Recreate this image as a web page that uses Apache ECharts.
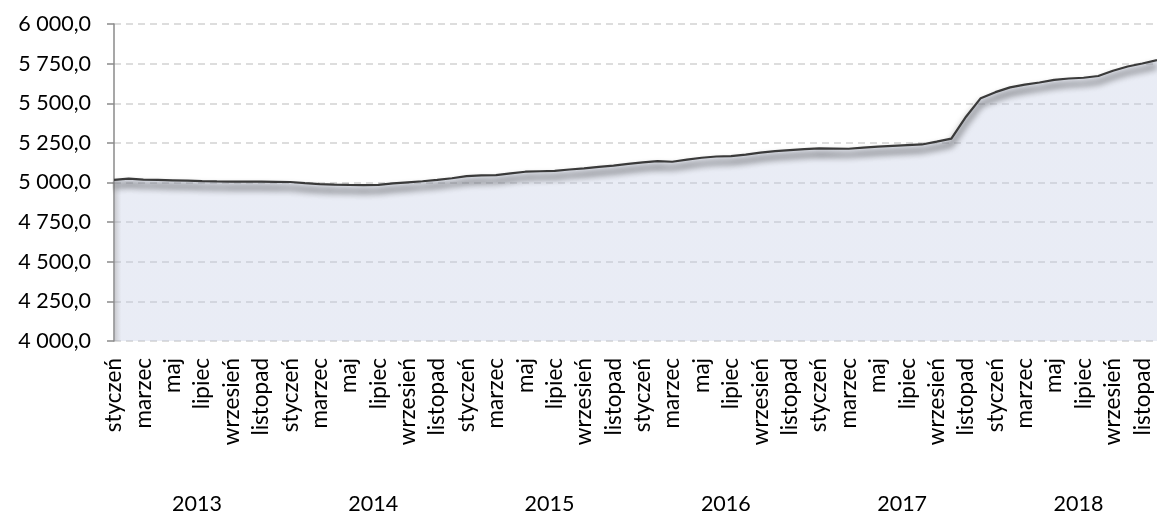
<!DOCTYPE html>
<html>
<head>
<meta charset="utf-8">
<script src="https://cdn.jsdelivr.net/npm/echarts@6/dist/echarts.min.js"></script>
<style>
  html, body { margin: 0; padding: 0; background: #fff; }
  #chart { width: 1157px; height: 515px; }
</style>
</head>
<body>
<div id="chart"></div>
<script>
var months = ['styczeń', 'luty', 'marzec', 'kwiecień', 'maj', 'czerwiec', 'lipiec', 'sierpień', 'wrzesień', 'październik', 'listopad', 'grudzień'];
var years = ['2013', '2014', '2015', '2016', '2017', '2018'];
var yTicks = [4000, 4250, 4500, 4750, 5000, 5250, 5500, 5750, 6000];

// wartości miesięczne, styczeń 2013 - grudzień 2018
var values = [
  5016, 5024, 5018, 5016, 5014, 5012, 5009, 5007, 5006, 5006, 5005, 5004,
  5003, 4996, 4990, 4987, 4985, 4984, 4985, 4994, 5001, 5008, 5017, 5027,
  5040, 5045, 5047, 5058, 5068, 5071, 5073, 5082, 5089, 5099, 5107, 5117,
  5127, 5135, 5131, 5144, 5156, 5164, 5167, 5176, 5188, 5198, 5204, 5210,
  5215, 5214, 5213, 5220, 5226, 5231, 5236, 5240, 5258, 5277, 5415, 5532,
  5570, 5600, 5618, 5631, 5647, 5656, 5661, 5672, 5705, 5732, 5751, 5772
];

var categories = [];
years.forEach(function (y) {
  months.forEach(function (m) { categories.push(m + ' ' + y); });
});
var yearPos = years.map(function (y, k) { return k * 12 + 5.65; });

var font = 'Lato';
var myChart = echarts.init(document.getElementById('chart'));
var option = {
  animation: false,
  grid: { left: 114, right: -8, top: 24, bottom: 170, containLabel: false },
  xAxis: [{
    type: 'category',
    data: categories,
    boundaryGap: false,
    axisLine: { show: false },
    axisTick: { show: false },
    splitLine: { show: false },
    axisLabel: {
      interval: 1,
      rotate: 90,
      margin: 17,
      color: '#000',
      fontFamily: font,
      fontSize: 22.5,
      formatter: function (v) { return v.split(' ')[0]; }
    }
  }, {
    type: 'value',
    min: 0,
    max: categories.length - 1,
    position: 'bottom',
    axisLine: { show: false },
    axisTick: { show: false },
    splitLine: { show: false },
    axisLabel: {
      customValues: yearPos,
      margin: 152,
      color: '#000',
      fontFamily: font,
      fontSize: 21.5,
      formatter: function (v) { return years[Math.floor(v / 12)]; }
    }
  }],
  yAxis: {
    type: 'value',
    min: yTicks[0],
    max: yTicks[yTicks.length - 1],
    interval: 250,
    axisLine: { show: true, lineStyle: { color: '#8a8a8a', width: 1.5 } },
    axisTick: { show: true, length: 7, lineStyle: { color: '#8a8a8a', width: 1.5 } },
    splitLine: { show: true, lineStyle: { color: '#d2d2d2', width: 1.5, type: [7, 5] } },
    axisLabel: {
      margin: 23,
      color: '#000',
      fontFamily: font,
      fontSize: 21.5,
      formatter: function (v) {
        var s = String(v);
        return s.slice(0, s.length - 3) + '\u00a0' + s.slice(-3) + ',0';
      }
    }
  },
  series: [{
    type: 'line',
    data: values,
    showSymbol: false,
    smooth: false,
    lineStyle: {
      color: '#3a3a3a',
      width: 2.2,
      shadowColor: 'rgba(0,0,0,1)',
      shadowBlur: 7,
      shadowOffsetY: 6
    },
    areaStyle: {
      opacity: 1,
      color: {
        type: 'linear', x: 0, y: 0, x2: 1, y2: 0,
        colorStops: [
          { offset: 0, color: 'rgba(150,150,155,0.55)' },
          { offset: 0.007, color: 'rgba(192,201,226,0.35)' },
          { offset: 1, color: 'rgba(192,201,226,0.35)' }
        ]
      }
    }
  }]
};
myChart.setOption(option);
</script>
</body>
</html>
